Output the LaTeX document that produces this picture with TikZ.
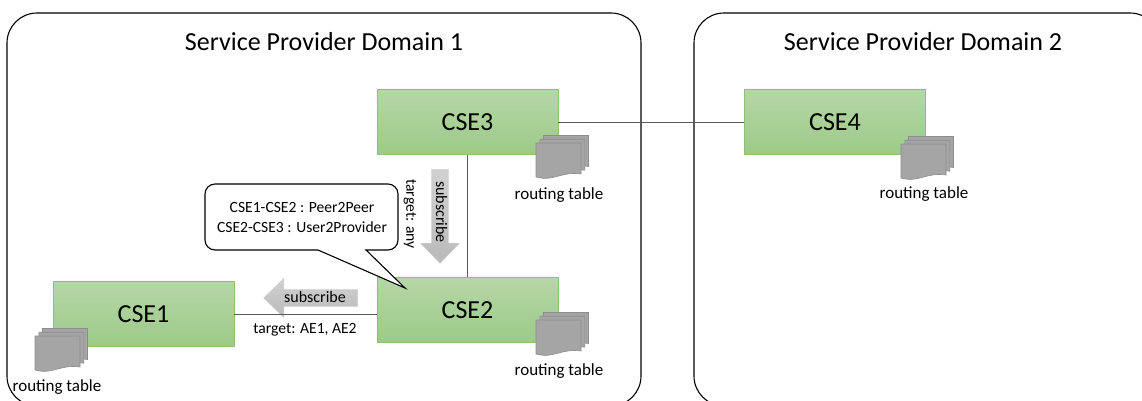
\documentclass[tikz,border=0pt]{standalone}
\usepackage{fontspec}
\setmainfont{Carlito}
\usetikzlibrary{shapes.arrows}
\definecolor{cseedge}{HTML}{8CC176}
\definecolor{csetop}{HTML}{B6D6A8}
\definecolor{csebottom}{HTML}{9CCB86}
\definecolor{docfill}{HTML}{A5A5A5}
\definecolor{docedge}{HTML}{8C8C8C}
\tikzset{
    domainbox/.style={draw=black, line width=1.1pt, rounded corners=30pt, inner sep=0pt},
    csebox/.style={draw=cseedge, line width=0.8pt, top color=csetop, bottom color=csebottom, minimum width=181pt, minimum height=65pt, inner sep=0pt, font=\fontsize{26}{31}\selectfont},
    smalltext/.style={inner sep=0pt, font=\fontsize{15.6}{19.5}\selectfont},
    tabletext/.style={inner sep=0pt, font=\fontsize{17}{20}\selectfont},
    titletext/.style={inner sep=0pt, font=\fontsize{26}{31}\selectfont},
    subarrow/.style={single arrow, top color=black!18, bottom color=black!27, draw=black!18, line width=0.5pt, inner sep=0pt, single arrow head extend=9.5pt, single arrow tip angle=88, single arrow head indent=0pt, minimum height=94pt, minimum width=39pt, text depth=3pt, text height=11pt, font=\fontsize{16}{19}\selectfont},
    link/.style={draw=black!65, line width=0.8pt},
    routingdocs/.pic={
        \foreach \off in {7.5, 3.8, 0}{
            \draw[draw=docedge, fill=docfill, line width=0.6pt, xshift=\off pt, yshift=\off pt]
                (0, 0) to (45, 0) to (45, 31) .. controls (25, 28) and (18, 39) .. (0, 34) -- cycle;
        }
    }
}
\begin{document}
\begin{tikzpicture}[x=1pt, y=-1pt]%% two domains
            \clip (0, 0) rectangle (1142, 401);
            \fill[white] (0, 0) rectangle (1142, 401);

                \node[domainbox, minimum width=634pt, minimum height=393pt] (domainA) at (324, 209.5) {};
                \node[domainbox, minimum width=466pt, minimum height=393pt] (domainB) at (927, 209.5) {};
                \node[titletext] (titleA) at (324, 42) {Service Provider Domain 1};
                \node[titletext] (titleB) at (923, 42) {Service Provider Domain 2};


                \node[csebox] (cseA) at (143.5, 314) {CSE1};
                \node[csebox] (cseB) at (467.5, 310) {CSE2};
                \node[csebox] (cseC) at (467.5, 122) {CSE3};
                \node[csebox] (cseD) at (835, 122) {CSE4};


                \node[subarrow, shape border rotate=180] (subA) at (315, 298) {subscribe};
                \node[subarrow, rotate=-90] (subB) at (440, 212) {subscribe};


                \draw[link] (cseC) to (cseB);
                \draw[link] (cseC) to (cseD);
                \draw[link] (cseA.east) to (cseA.east -| cseB.west);


                \pic at (35, 336) {routingdocs};
                \pic at (536, 320) {routingdocs};
                \pic at (536, 143) {routingdocs};
                \pic at (901, 144) {routingdocs};
                \node[tabletext] (tableA) at (57, 387) {routing table};
                \node[tabletext] (tableB) at (559, 371.5) {routing table};
                \node[tabletext] (tableC) at (559, 195) {routing table};
                \node[tabletext] (tableD) at (924, 194) {routing table};


                \node[smalltext] (targetA) at (305, 330) {target: AE1, AE2};
                \node[smalltext, rotate=-90] (targetB) at (410, 214) {target: any};


                \draw[fill=white, draw=black, line width=1.1pt, rounded corners=10pt] (318, 250) [sharp corners] to (405, 288) to (366, 250) [rounded corners=10pt] to (398, 250) to (398, 184) to (205, 184) to (205, 250) [sharp corners] -- cycle;
                \node[smalltext, align=center] (peers) at (302, 217.5) {CSE1-CSE2 : Peer2Peer\\CSE2-CSE3 : User2Provider};

\end{tikzpicture}
\end{document}
